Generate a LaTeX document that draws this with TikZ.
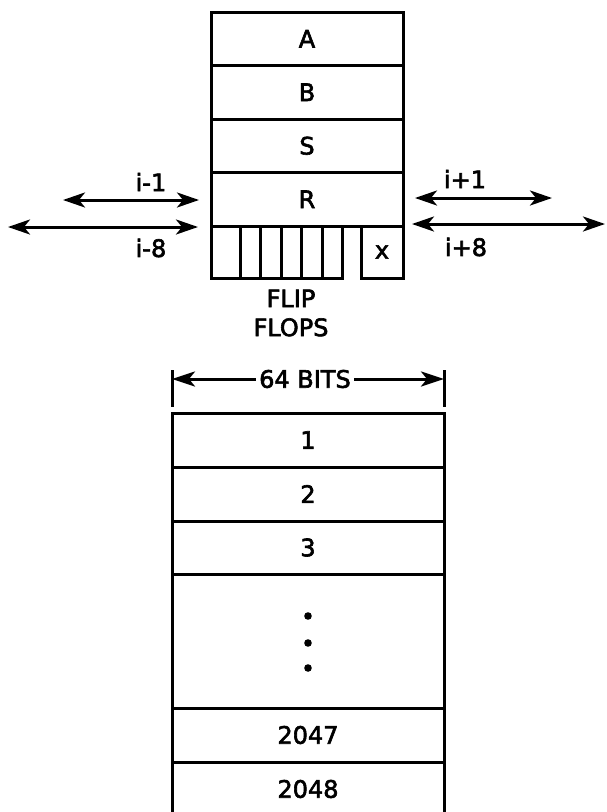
\documentclass[tikz,border=0pt]{standalone}
\usepackage{fontspec}
\newfontfamily\lett[FakeBold=2.5]{DejaVu Sans}
\usetikzlibrary{arrows.meta}
\begin{document}
\begin{tikzpicture}[x=1pt,y=-1pt,line width=3pt,
  lbl/.style={font=\lett\fontsize{24}{29}\selectfont},
  reg/.style={draw,lbl,minimum width=192pt,minimum height=53.5pt,inner sep=0pt,outer sep=0pt},
  mem/.style={draw,lbl,minimum width=272pt,minimum height=54pt,inner sep=0pt,outer sep=0pt},
  link/.style={{Stealth[length=22pt,width=15pt,inset=6pt]}-{Stealth[length=22pt,width=15pt,inset=6pt]},line width=3pt},
  dim/.style={-{Stealth[length=23pt,width=15pt,inset=6pt]},line width=3pt}]
  \useasboundingbox (0,0) rectangle (606,812);
  \node[reg] (a) at (307,38.75) {A};
  \node[reg] (b) at (307,92.25) {B};
  \node[reg] (s) at (307,145.75) {S};
  \node[reg] (r) at (307,199.25) {R};
  \draw (r.south west) |- (342,278) -- (342,226);
  \foreach \x in {240,260,281,301,322}
    \draw (\x,226) -- (\x,278);
  \node[draw,lbl,minimum width=42pt,minimum height=52pt,inner sep=0pt] (xbit) at (382,252) {x};
  \node[lbl,align=center] (ff) at (291,313) {FLIP\\FLOPS};

  \node[lbl] (im1) at (151,182) {i-1};
  \node[lbl] (im8) at (151,248) {i-8};
  \node[lbl] (ip1) at (465,179) {i+1};
  \node[lbl] (ip8) at (466,247) {i+8};
  \coordinate (im1a) at (63,200);  \coordinate (im1b) at (199,200);
  \coordinate (im8a) at (8,227);   \coordinate (im8b) at (198,227);
  \coordinate (ip1a) at (415,198); \coordinate (ip1b) at (552,198);
  \coordinate (ip8a) at (412,224); \coordinate (ip8b) at (605,224);
  \draw[link] (im1a) -- (im1b);
  \draw[link] (im8a) -- (im8b);
  \draw[link] (ip1a) -- (ip1b);
  \draw[link] (ip8a) -- (ip8b);

  \coordinate (dl) at (172,379);
  \coordinate (dr) at (444,379);
  \draw (dl) ++(0,-9) -- ++(0,37);
  \draw (dr) ++(0,-9) -- ++(0,37);
  \node[lbl,inner sep=2pt] (bits) at (305,379) {64 BITS};
  \draw[dim] (bits) -- (dl);
  \draw[dim] (bits) -- (dr);

  \node[mem] (m1) at (308,440) {1};
  \node[mem] (m2) at (308,494) {2};
  \node[mem,minimum height=53pt] (m3) at (308,547.5) {3};
  \node[mem,minimum height=134pt] (mdots) at (308,641) {};
  \foreach \y in {616,643,668}
    \fill (mdots.center |- 0,\y) circle (3.8pt);
  \node[mem] (m2047) at (308,735) {2047};
  \node[lbl] (m2048) at (308,789) {2048};
  \draw (m2047.south west) -- ++(0,52);
  \draw (m2047.south east) -- ++(0,52);
\end{tikzpicture}
\end{document}
